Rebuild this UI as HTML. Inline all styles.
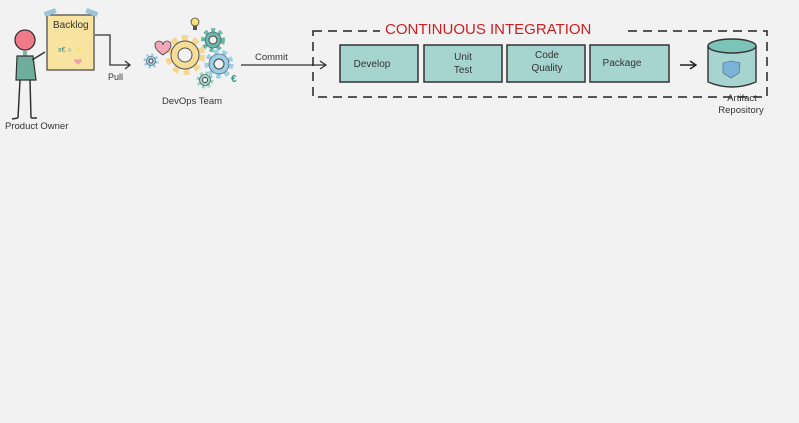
<!DOCTYPE html>
<html><head><meta charset="utf-8"><style>
html,body{margin:0;padding:0;background:#f2f2f2;width:799px;height:423px;overflow:hidden}
svg{display:block}
text{font-family:"Liberation Sans",sans-serif}
</style></head><body>
<svg width="799" height="423" viewBox="0 0 799 423" xmlns="http://www.w3.org/2000/svg">
<rect width="799" height="423" fill="#f2f2f2"/>
<!-- Person -->
<circle cx="25" cy="40" r="10" fill="#f07a8a" stroke="#333" stroke-width="1.3"/>
<rect x="23" y="51" width="4" height="5" fill="#7fb8a8"/>
<path d="M17 56 L33 56 L36 80 L16 80 Z" fill="#6fae9c" stroke="#333" stroke-width="1.2"/>
<path d="M32 60 L45 52" stroke="#333" stroke-width="1.5"/>
<path d="M20 80 L18 118 M30 80 L31 118 M18 118 L12 119 M31 118 L37 118" stroke="#333" stroke-width="1.5" fill="none"/>
<!-- Backlog paper -->
<rect x="47" y="15" width="47" height="55" fill="#f8e4a0" stroke="#444" stroke-width="1.2"/>
<rect x="44" y="10" width="12" height="5" fill="#9ac6d6" transform="rotate(-20 50 12)"/>
<rect x="86" y="10" width="12" height="5" fill="#9ac6d6" transform="rotate(20 92 12)"/>
<text x="53" y="28" font-size="10" fill="#333">Backlog</text>
<text x="58" y="52" font-size="7" fill="#2a8a80">x€ ○</text>
<circle cx="79" cy="49" r="2" fill="#f5e07a"/>
<path d="M74 61 a2 2 0 0 1 4 0 a2 2 0 0 1 4 0 l-4 4 z" fill="#f0a0a8"/>
<!-- Pull connector -->
<path d="M95 35 L110 35 L110 65 L129 65 M125 61 L130 65 L125 69" stroke="#333" stroke-width="1.3" fill="none"/>
<text x="108" y="80" font-size="9" fill="#333">Pull</text>
<text x="5" y="129" font-size="9.5" fill="#333">Product Owner</text>
<!-- Gears -->
<g fill="none">
<circle cx="185" cy="55" r="17" stroke="#f5d890" stroke-width="6" stroke-dasharray="6 5"/>
<circle cx="185" cy="55" r="14" fill="#f5dd98" stroke="#555" stroke-width="1"/>
<circle cx="185" cy="55" r="7" fill="#f2f2f2" stroke="#555" stroke-width="1"/>
<circle cx="213" cy="40" r="10" stroke="#6ab8ac" stroke-width="4" stroke-dasharray="4 3.5"/>
<circle cx="213" cy="40" r="8" fill="#6ab8ac" stroke="#444" stroke-width="0.6"/>
<circle cx="213" cy="40" r="4" fill="#f2f2f2" stroke="#444"/>
<circle cx="219" cy="64" r="12" stroke="#9cd0e8" stroke-width="5" stroke-dasharray="4.5 4"/>
<circle cx="219" cy="64" r="10" fill="#9cd0e8" stroke="#444" stroke-width="0.6"/>
<circle cx="219" cy="64" r="5" fill="#f2f2f2" stroke="#444"/>
<circle cx="205" cy="80" r="7" stroke="#9cd4c8" stroke-width="3" stroke-dasharray="3 2.5"/>
<circle cx="205" cy="80" r="5.5" fill="#9cd4c8" stroke="#444" stroke-width="0.6"/>
<circle cx="205" cy="80" r="2.5" fill="#f2f2f2" stroke="#444"/>
<circle cx="151" cy="61" r="6" stroke="#9cd0e8" stroke-width="3" stroke-dasharray="2.5 2.2"/>
<circle cx="151" cy="61" r="4.5" fill="#9cd0e8" stroke="#444" stroke-width="0.6"/>
<circle cx="151" cy="61" r="2" fill="#f2f2f2" stroke="#444"/>
</g>
<path d="M155 45 a4 4 0 0 1 8 0 a4 4 0 0 1 8 0 q0 5 -8 10 q-8 -5 -8 -10z" fill="#f2a8b8" stroke="#444" stroke-width="0.8"/>
<circle cx="195" cy="22" r="4" fill="#f5e07a" stroke="#444" stroke-width="0.8"/>
<rect x="193" y="26" width="4" height="4" fill="#555"/>
<text x="231" y="82" font-size="10" fill="#2a9a88" font-weight="bold">€</text>
<text x="162" y="104" font-size="9.5" fill="#333">DevOps Team</text>
<!-- Commit -->
<path d="M241 65 L325 65 M320 61 L326 65 L320 69" stroke="#333" stroke-width="1.2" fill="none"/>
<text x="255" y="60" font-size="9.5" fill="#333">Commit</text>
<!-- CI box -->
<rect x="313" y="31" width="454" height="66" fill="none" stroke="#222" stroke-width="1.5" stroke-dasharray="9 6"/>
<rect x="380" y="20" width="242" height="16" fill="#f2f2f2"/>
<text x="385" y="34" font-size="15" fill="#cc1f1f" style="fill:#cc1f1f">CONTINUOUS INTEGRATION</text>
<g stroke="#333" stroke-width="1.5" fill="#a6d5cf">
<rect x="340" y="45" width="78" height="37"/>
<rect x="424" y="45" width="78" height="37"/>
<rect x="507" y="45" width="78" height="37"/>
<rect x="590" y="45" width="79" height="37"/>
</g>
<g font-size="10" text-anchor="middle" fill="#333">
<text x="372" y="67">Develop</text>
<text x="463" y="60">Unit</text><text x="463" y="73">Test</text>
<text x="547" y="58">Code</text><text x="547" y="71">Quality</text>
<text x="622" y="66">Package</text>
</g>
<path d="M680 65 L695 65 M690 61 L696 65 L690 69" stroke="#222" stroke-width="1.4" fill="none"/>
<!-- Cylinder -->
<path d="M708 46 L708 82 Q732 92 756 82 L756 46" fill="#a6d5cf" stroke="#333" stroke-width="1.4"/>
<ellipse cx="732" cy="46" rx="24" ry="7" fill="#7cc4b8" stroke="#333" stroke-width="1.4"/>
<path d="M723 63 L731 61 L740 63 L739 73 L731 78 L723 73 Z" fill="#7ab4d8" stroke="#557" stroke-width="0.6"/>
<text x="742" y="101" font-size="9.5" text-anchor="middle" fill="#333">Artifact</text>
<text x="741" y="113" font-size="9.5" text-anchor="middle" fill="#333">Repository</text>
</svg>
</body></html>
